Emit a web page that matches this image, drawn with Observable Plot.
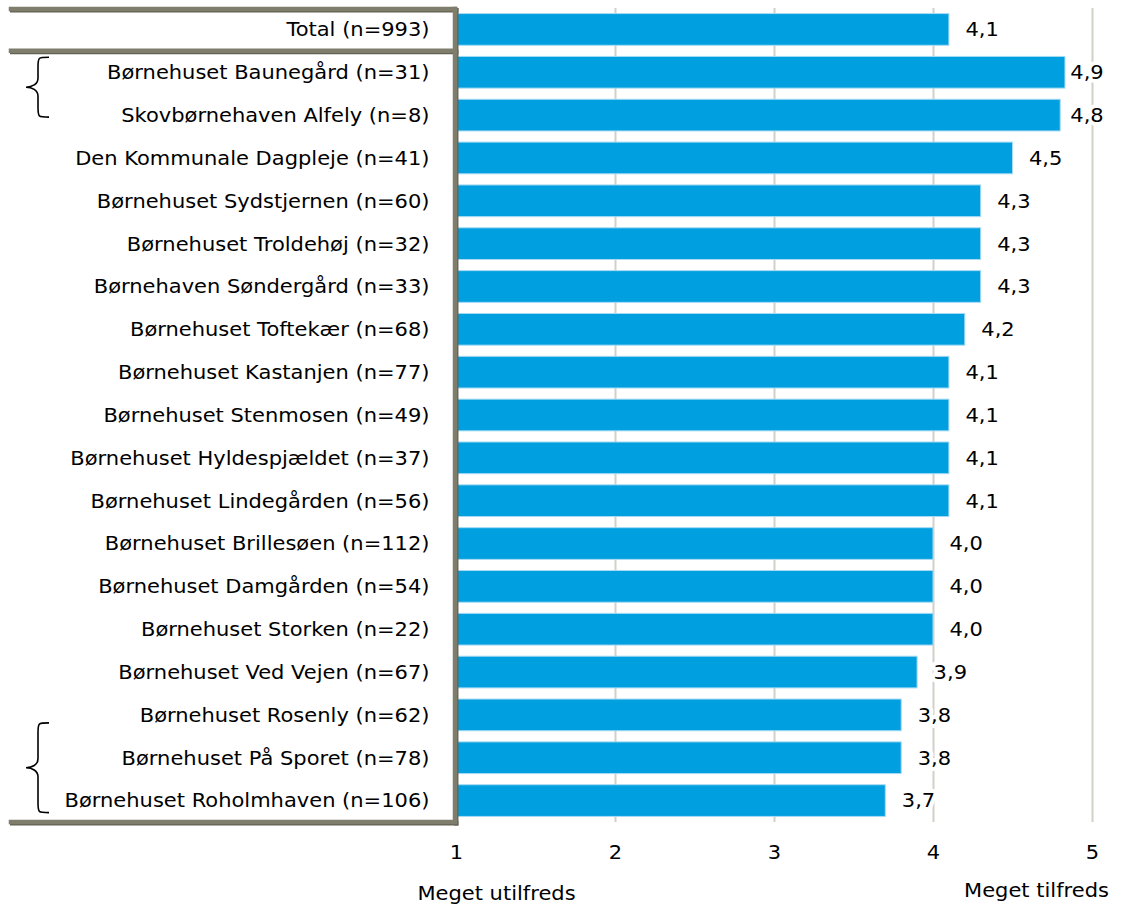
<!DOCTYPE html>
<html>
<head>
<meta charset="utf-8">
<script src="https://cdn.jsdelivr.net/npm/d3@7"></script>
<script src="https://cdn.jsdelivr.net/npm/@observablehq/plot@0.6"></script>
<style>
  html, body { margin: 0; padding: 0; background: #fff; }
  #chart { width: 1124px; height: 906px; }
</style>
</head>
<body>
<div id="chart"></div>
<script>
// ---- data ----
const labels = [
  "Total (n=993)",
  "Børnehuset Baunegård (n=31)",
  "Skovbørnehaven Alfely (n=8)",
  "Den Kommunale Dagpleje (n=41)",
  "Børnehuset Sydstjernen (n=60)",
  "Børnehuset Troldehøj (n=32)",
  "Børnehaven Søndergård (n=33)",
  "Børnehuset Toftekær (n=68)",
  "Børnehuset Kastanjen (n=77)",
  "Børnehuset Stenmosen (n=49)",
  "Børnehuset Hyldespjældet (n=37)",
  "Børnehuset Lindegården (n=56)",
  "Børnehuset Brillesøen (n=112)",
  "Børnehuset Damgården (n=54)",
  "Børnehuset Storken (n=22)",
  "Børnehuset Ved Vejen (n=67)",
  "Børnehuset Rosenly (n=62)",
  "Børnehuset På Sporet (n=78)",
  "Børnehuset Roholmhaven (n=106)"
];
const values = [4.1, 4.83, 4.8, 4.5, 4.3, 4.3, 4.3, 4.2, 4.1, 4.1, 4.1, 4.1, 4.0, 4.0, 4.0, 3.9, 3.8, 3.8, 3.7];
const valueLabels = ["4,1", "4,9", "4,8", "4,5", "4,3", "4,3", "4,3", "4,2", "4,1", "4,1", "4,1", "4,1", "4,0", "4,0", "4,0", "3,9", "3,8", "3,8", "3,7"];
const xTicks = [1, 2, 3, 4, 5];
const gridTicks = [2, 3, 4, 5];
const lowLabel = "Meget utilfreds";
const highLabel = "Meget tilfreds";
const braceGroups = [[1, 2], [16, 18]];
const labelCap = 4.76;

const rows = labels.map((label, i) => ({label, value: values[i], text: valueLabels[i]}));

// ---- style ----
const FONT = "'DejaVu Sans', Verdana, sans-serif";
const FS = 20;
const STRETCH = 1.05;
const BAR = "#009fe0";
const FRAME = "#7f7e6c";
const FRAME_SHADOW = "#626152";
const GRID = "#d3d0c7";
const PAD_IN = 0.26;

function bandPos(y) {
  const y0 = y(labels[0]), y1 = y(labels[1]);
  const step = y1 - y0;
  const bw = step * (1 - PAD_IN);
  return {step, bw};
}

function frameMark(index, scales, values, dims) {
  const {x, y} = scales;
  const {bw} = bandPos(y);
  const g = d3.create("svg:g");
  const xr = x(1) - 1;
  const top = dims.marginTop + 1;
  const bottom = dims.height - dims.marginBottom;
  const sep = (y(labels[0]) + bw + y(labels[1])) / 2;
  const left = 11;
  const segs = [
    [left, top, xr, top],
    [left, sep, xr, sep],
    [left, bottom, xr, bottom],
    [xr, top, xr, bottom]
  ];
  for (const [a, b, c, d] of segs) {
    g.append("line").attr("x1", a + 1.2).attr("y1", b + 1.2).attr("x2", c + 1.2).attr("y2", d + 1.2)
      .attr("stroke", FRAME_SHADOW).attr("stroke-width", 4.5).attr("stroke-linecap", "square");
  }
  for (const [a, b, c, d] of segs) {
    g.append("line").attr("x1", a).attr("y1", b).attr("x2", c).attr("y2", d)
      .attr("stroke", FRAME).attr("stroke-width", 4.5).attr("stroke-linecap", "square");
  }
  return g.node();
}

function bracePath(t, b) {
  const m = (t + b) / 2, xe = 49, xc = 38, xt = 26;
  return `M${xe},${t} C${xc},${t} ${xc},${t} ${xc},${t + 10} L${xc},${m - 9} ` +
    `C${xc},${m - 3} ${xt + 6},${m} ${xt},${m} C${xt + 6},${m} ${xc},${m + 3} ${xc},${m + 9} ` +
    `L${xc},${b - 10} C${xc},${b} ${xc},${b} ${xe},${b}`;
}

function braceMark(index, scales) {
  const {y} = scales;
  const {bw} = bandPos(y);
  const g = d3.create("svg:g");
  const offsets = [[-15, 2], [8, 12]];
  braceGroups.forEach(([a, b], k) => {
    const t = y(labels[a]) + bw / 2 + offsets[k][0];
    const bt = y(labels[b]) + bw / 2 + offsets[k][1];
    g.append("path").attr("d", bracePath(t, bt)).attr("fill", "none")
      .attr("stroke", "#000").attr("stroke-width", 1.6);
  });
  return g.node();
}

const chart = Plot.plot({
  width: 1124,
  height: 906,
  marginLeft: 456,
  marginRight: 32,
  marginTop: 8,
  marginBottom: 84,
  style: {fontFamily: FONT, fontSize: FS + "px", color: "#000", background: "#fff"},
  x: {domain: [1, 5], label: null},
  y: {domain: labels, paddingInner: PAD_IN, paddingOuter: 0.13, round: false, label: null},
  marks: [
    Plot.gridX(gridTicks, {stroke: GRID, strokeOpacity: 1, strokeWidth: 2}),
    Plot.barX(rows, {x1: () => 1, x2: "value", y: "label", fill: BAR, stroke: "#a8dbf3", strokeWidth: 1}),
    Plot.text(rows, {
      x: d => Math.min(d.value, labelCap), y: "label", text: "text", dx: 16,
      textAnchor: "start", fill: "#000", stroke: "#fff", strokeWidth: 8, paintOrder: "stroke", fontSize: FS
    }),
    Plot.axisY({tickSize: 0, tickPadding: 27, fontSize: FS, label: null}),
    Plot.axisX({ticks: xTicks, tickSize: 0, tickPadding: 22, fontSize: FS, label: null, tickFormat: d => String(d)}),
    frameMark,
    braceMark,
    Plot.text([lowLabel], {x: () => 1, text: d => d, frameAnchor: "bottom", dx: 40, dy: 77, fontSize: FS, fill: "#000"}),
    Plot.text([highLabel], {x: () => 5, text: d => d, frameAnchor: "bottom", dx: -56, dy: 74, fontSize: FS, fill: "#000"})
  ]
});

document.getElementById("chart").appendChild(chart);

// slight horizontal widening of the Verdana-like text
chart.querySelectorAll("text").forEach(t => {
  const L = t.getComputedTextLength();
  if (L > 0) {
    t.setAttribute("textLength", (L * STRETCH).toFixed(2));
    t.setAttribute("lengthAdjust", "spacingAndGlyphs");
  }
});
</script>
</body>
</html>
